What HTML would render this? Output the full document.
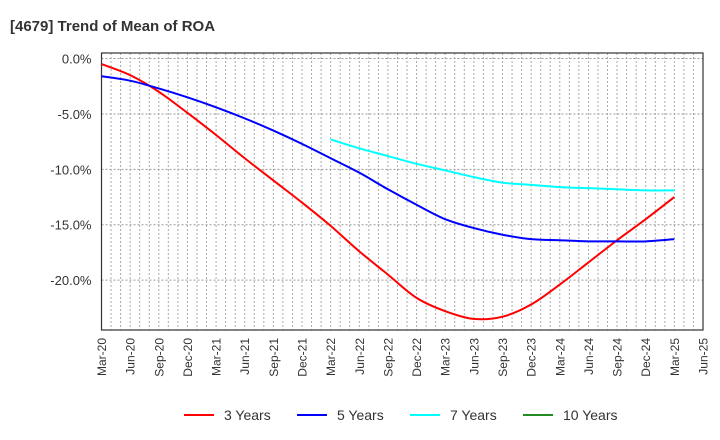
<!DOCTYPE html>
<html><head><meta charset="utf-8"><style>
body{margin:0;background:#fff;}
svg{display:block;font-family:"Liberation Sans",sans-serif;}
</style></head><body>
<svg id="chart" width="720" height="440">
<text x="10" y="31" font-size="15" font-weight="bold" fill="#333">[4679]  Trend of Mean of ROA</text>
<g id="grid"></g><g id="axes"></g><g id="series"></g><g id="legend"></g>
</svg>
<script>
const categories=["Mar-20","Jun-20","Sep-20","Dec-20","Mar-21","Jun-21","Sep-21","Dec-21","Mar-22","Jun-22","Sep-22","Dec-22","Mar-23","Jun-23","Sep-23","Dec-23","Mar-24","Jun-24","Sep-24","Dec-24","Mar-25","Jun-25"];
const yTicks=[0,-5,-10,-15,-20];
const yTickLabels=["0.0%","-5.0%","-10.0%","-15.0%","-20.0%"];
const seriesNames=["3 Years","5 Years","7 Years","10 Years"];
const seriesColors=["#ff0000","#0000ff","#00ffff","#228b22"];
const y3=[-0.5,-1.5,-3.0,-4.9,-6.9,-9.0,-11.0,-13.0,-15.1,-17.4,-19.5,-21.6,-22.8,-23.5,-23.3,-22.2,-20.4,-18.4,-16.4,-14.5,-12.5];
const y5=[-1.6,-2.0,-2.7,-3.5,-4.4,-5.4,-6.5,-7.7,-9.0,-10.3,-11.8,-13.2,-14.5,-15.3,-15.9,-16.3,-16.4,-16.5,-16.5,-16.5,-16.3];
const y7=[null,null,null,null,null,null,null,null,-7.3,-8.1,-8.8,-9.5,-10.1,-10.7,-11.2,-11.4,-11.6,-11.7,-11.8,-11.9,-11.9];
const y10=[];
const seriesData=[y3,y5,y7,y10];
const NS="http://www.w3.org/2000/svg";
const L=101.5,R=703,T=53,B=330,YMAX=0.5,YMIN=-24.5;
const xs=i=>L+i*(R-L)/(categories.length-1);
const ys=v=>T+(YMAX-v)/(YMAX-YMIN)*(B-T);
function mk(tag,attrs,parent){const e=document.createElementNS(NS,tag);for(const k in attrs)e.setAttribute(k,attrs[k]);parent.appendChild(e);return e;}
const grid=document.getElementById('grid'),axes=document.getElementById('axes'),ser=document.getElementById('series'),leg=document.getElementById('legend');
// monthly vertical grid
for(let m=1;m<(categories.length-1)*3;m++){const x=L+m*(R-L)/((categories.length-1)*3);
const g=mk('line',{x1:x,x2:x,y1:T,y2:B,stroke:'#aaa','stroke-dasharray':'2,2','stroke-width':1},grid);

}
yTicks.forEach((v,i)=>{const y=ys(v);
const g=mk('line',{x1:L,x2:R,y1:y,y2:y,stroke:'#999','stroke-dasharray':'2,2','stroke-width':1},grid);


const t=mk('text',{x:L-10,y:y+5,'text-anchor':'end','font-size':13,fill:'#333'},axes);t.textContent=yTickLabels[i];

});
const frame=mk('rect',{x:L,y:T,width:R-L,height:B-T,fill:'none',stroke:'#333','stroke-width':1.2},axes);


categories.forEach((c,i)=>{const x=xs(i);
const t=mk('text',{transform:`translate(${x+4.5},${B+8}) rotate(-90)`,'text-anchor':'end','font-size':12,fill:'#333'},axes);t.textContent=c;

});
function pathFor(arr){const pts=[];arr.forEach((v,i)=>{if(v!==null&&v!==undefined)pts.push([xs(i),ys(v)]);});
if(pts.length<2)return null;let d=`M${pts[0][0]},${pts[0][1]}`;
for(let i=0;i<pts.length-1;i++){const p0=pts[i-1]||pts[i],p1=pts[i],p2=pts[i+1],p3=pts[i+2]||p2;
d+=` C${p1[0]+(p2[0]-p0[0])/6},${p1[1]+(p2[1]-p0[1])/6} ${p2[0]-(p3[0]-p1[0])/6},${p2[1]-(p3[1]-p1[1])/6} ${p2[0]},${p2[1]}`;}return d;}
seriesData.forEach((arr,k)=>{const d=pathFor(arr);if(!d)return;
const p=mk('path',{d:d,fill:'none',stroke:seriesColors[k],'stroke-width':2},ser);

});
seriesNames.forEach((n,k)=>{const x0=184+k*113;
const g=mk('g',{},leg);


mk('line',{x1:x0,x2:x0+30,y1:415,y2:415,stroke:seriesColors[k],'stroke-width':2},g);
const t=mk('text',{x:x0+40,y:420,'font-size':14,fill:'#333'},g);t.textContent=n;});
</script>
</body></html>
